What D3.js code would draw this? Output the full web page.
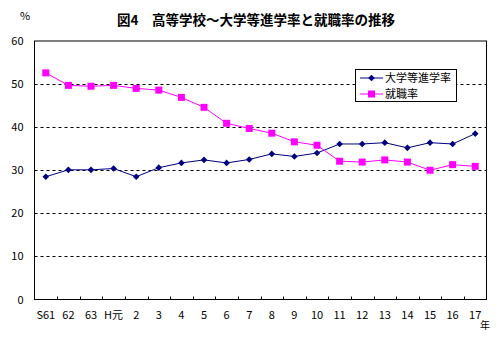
<!DOCTYPE html>
<html><head><meta charset="utf-8">
<script src="https://cdn.jsdelivr.net/npm/d3@7"></script>
<style>body{margin:0;background:#fff;} svg{display:block;}</style>
</head><body>
<svg id="c" width="500" height="340"></svg>
<script>
const categories = ["S61","62","63","H元","2","3","4","5","6","7","8","9","10","11","12","13","14","15","16","17"];
const univRate = [28.5,30.1,30.1,30.4,28.5,30.6,31.7,32.4,31.7,32.5,33.8,33.2,34.0,36.1,36.1,36.4,35.2,36.4,36.1,38.5];
const jobRate  = [52.6,49.7,49.5,49.7,49.0,48.6,46.9,44.6,40.9,39.7,38.6,36.6,35.8,32.1,31.9,32.4,31.9,30.0,31.3,30.9];
const yTicks = [0,10,20,30,40,50,60];
const seriesNames = ["大学等進学率","就職率"];
const colors = ["#000080","#FF00FF"];
const titleText = "図4　高等学校～大学等進学率と就職率の推移";

const svg = d3.select("#c");
const font = "'Noto Sans CJK JP', 'DejaVu Sans', sans-serif";
const L = 34.5, R = 486.5, T = 41, B = 299.5;
const x = d3.scaleBand().domain(categories).range([L, R]);
const y = d3.scaleLinear().domain([0, 60]).range([B, T]);

// gridlines
svg.append("g").selectAll("line").data(yTicks.filter(d => d > 0 && d < 60)).join("line")
  .attr("x1", L).attr("x2", R)
  .attr("y1", d => Math.round(y(d)) + 0.5).attr("y2", d => Math.round(y(d)) + 0.5)
  .attr("stroke", "#000").attr("stroke-width", 1).attr("stroke-dasharray", "3,3");

// plot border
svg.append("rect").attr("x", L).attr("y", T).attr("width", R - L).attr("height", B - T)
  .attr("fill", "none").attr("stroke", "#000").attr("stroke-width", 1);

// x axis ticks (between categories)
const xAxis = d3.axisBottom(x).tickSize(0).tickPadding(12);
const gx = svg.append("g").attr("transform", `translate(0,${B})`).call(xAxis);
gx.select(".domain").remove();
gx.selectAll("text").attr("font-family", font).attr("font-size", 11).attr("fill", "#000");
svg.append("g").selectAll("line").data(categories.slice(1)).join("line")
  .attr("x1", d => Math.round(x(d)) + 0.5).attr("x2", d => Math.round(x(d)) + 0.5)
  .attr("y1", B).attr("y2", B - 3).attr("stroke", "#000");

// y axis labels
const yAxis = d3.axisLeft(y).tickValues(yTicks).tickSize(0).tickPadding(11);
const gy = svg.append("g").attr("transform", `translate(${L},0)`).call(yAxis);
gy.select(".domain").remove();
gy.selectAll("text").attr("font-family", font).attr("font-size", 11).attr("fill", "#000");

// lines
const line = d3.line().x((d, i) => x(categories[i]) + x.bandwidth() / 2).y(d => y(d));
const allSeries = [univRate, jobRate];
allSeries.forEach((s, k) => {
  svg.append("path").datum(s).attr("d", line).attr("fill", "none")
    .attr("stroke", colors[k]).attr("stroke-width", 1);
});
function drawMarker(g, k, cx, cy) {
  if (k === 0) {
    g.append("path").attr("d", d3.symbol().type(d3.symbolSquare).size(22)())
      .attr("transform", `translate(${cx},${cy}) rotate(45)`).attr("fill", colors[0]);
  } else {
    g.append("rect").attr("x", cx - 3.5).attr("y", cy - 3.5).attr("width", 7).attr("height", 7)
      .attr("fill", colors[1]);
  }
}
allSeries.forEach((s, k) => {
  const g = svg.append("g");
  s.forEach((v, i) => drawMarker(g, k, x(categories[i]) + x.bandwidth() / 2, y(v)));
});

// legend
const lg = svg.append("g");
lg.append("rect").attr("x", 355.5).attr("y", 69.5).attr("width", 101).attr("height", 32)
  .attr("fill", "#fff").attr("stroke", "#000").attr("stroke-width", 1);
seriesNames.forEach((n, k) => {
  const ly = 78 + k * 16;
  lg.append("line").attr("x1", 360).attr("x2", 383).attr("y1", ly).attr("y2", ly)
    .attr("stroke", colors[k]).attr("stroke-width", 1);
  drawMarker(lg, k, 371.5, ly);
  lg.append("text").attr("x", 385).attr("y", ly + 4).text(n)
    .attr("font-family", font).attr("font-size", 11).attr("fill", "#000");
});

// title and axis unit labels
svg.append("text").attr("x", 256).attr("y", 25).attr("text-anchor", "middle")
  .attr("font-family", font).attr("font-size", 13.5).attr("font-weight", "bold").text(titleText);
svg.append("text").attr("x", 20).attr("y", 20).attr("font-family", font).attr("font-size", 11).text("%");
svg.append("text").attr("x", 480).attr("y", 329).attr("font-family", font).attr("font-size", 10).text("年");
</script>
</body></html>
